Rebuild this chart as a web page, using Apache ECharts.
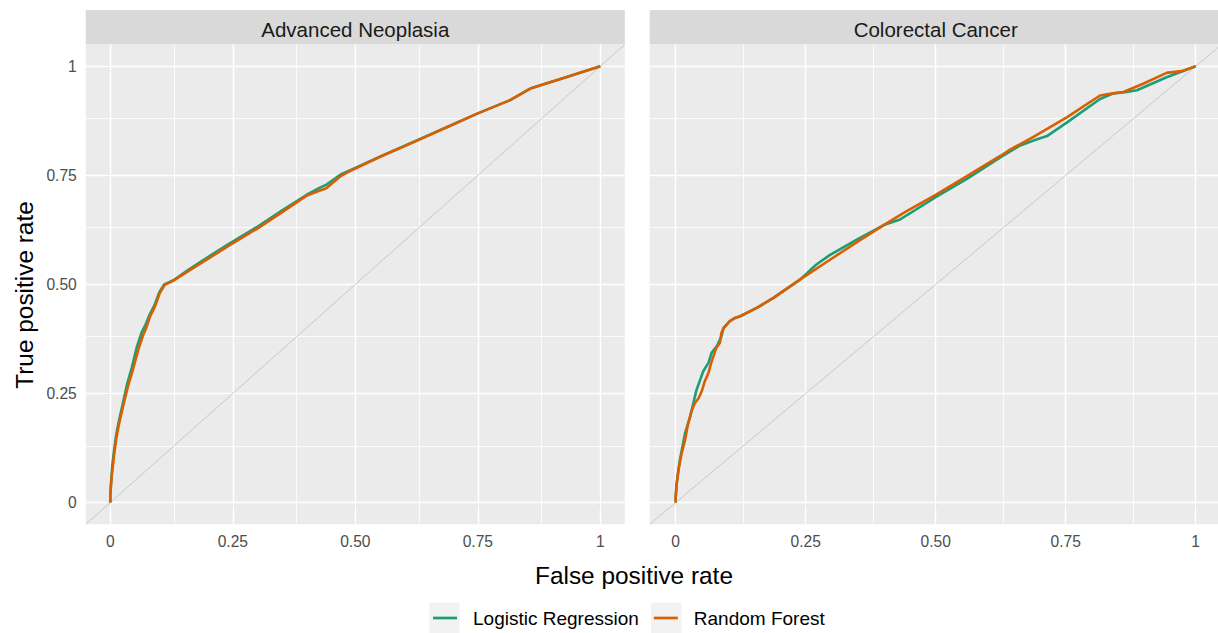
<!DOCTYPE html>
<html><head><meta charset="utf-8">
<script src="https://cdn.jsdelivr.net/npm/echarts@6/dist/echarts.min.js"></script>
<style>html,body{margin:0;padding:0;background:#fff}#c{width:1218px;height:633px}</style>
</head><body><div id="c"></div>
<script>
// ---- data ----
const panels = ['Advanced Neoplasia', 'Colorectal Cancer'];
const seriesNames = ['Logistic Regression', 'Random Forest'];
const seriesColors = ['#1B9E77', '#D95F02'];
const tickValues = [0, 0.25, 0.5, 0.75, 1];
const tickLabels = ['0', '0.25', '0.50', '0.75', '1'];
const minorValues = [0.125, 0.375, 0.625, 0.875];
const axisRange = [-0.05, 1.05];
const xTitle = 'False positive rate';
const yTitle = 'True positive rate';

// Advanced Neoplasia
const anLrFpr = [0, 0, 0.002, 0.004, 0.008, 0.012, 0.017, 0.025, 0.034, 0.044, 0.054, 0.064, 0.072, 0.08, 0.09, 0.1, 0.11, 0.128, 0.16, 0.2, 0.238, 0.3, 0.35, 0.4, 0.425, 0.44, 0.47, 0.5, 0.55, 0.623, 0.69, 0.75, 0.815, 0.857, 0.93, 1];
const anLrTpr = [0, 0.017, 0.051, 0.084, 0.122, 0.155, 0.184, 0.224, 0.27, 0.31, 0.356, 0.39, 0.408, 0.43, 0.452, 0.482, 0.5, 0.509, 0.534, 0.563, 0.59, 0.632, 0.669, 0.705, 0.72, 0.728, 0.752, 0.767, 0.793, 0.829, 0.862, 0.892, 0.922, 0.949, 0.975, 1];
const anRfFpr = [0, 0, 0.002, 0.005, 0.009, 0.013, 0.018, 0.026, 0.036, 0.046, 0.057, 0.067, 0.074, 0.081, 0.091, 0.101, 0.111, 0.128, 0.16, 0.2, 0.238, 0.3, 0.35, 0.4, 0.425, 0.44, 0.47, 0.486, 0.55, 0.623, 0.69, 0.75, 0.815, 0.857, 0.93, 1];
const anRfTpr = [0, 0.017, 0.051, 0.082, 0.12, 0.152, 0.181, 0.22, 0.266, 0.304, 0.35, 0.384, 0.402, 0.426, 0.449, 0.48, 0.499, 0.508, 0.531, 0.559, 0.586, 0.628, 0.665, 0.703, 0.714, 0.72, 0.748, 0.758, 0.792, 0.828, 0.862, 0.892, 0.922, 0.949, 0.975, 1];

// Colorectal Cancer
const crcLrFpr = [0, 0, 0.002, 0.008, 0.018, 0.028, 0.034, 0.04, 0.047, 0.053, 0.063, 0.069, 0.079, 0.088, 0.092, 0.098, 0.104, 0.114, 0.124, 0.156, 0.188, 0.239, 0.27, 0.296, 0.35, 0.4, 0.43, 0.46, 0.5, 0.56, 0.625, 0.66, 0.688, 0.714, 0.752, 0.816, 0.842, 0.867, 0.887, 0.944, 1];
const crcLrTpr = [0, 0.013, 0.044, 0.097, 0.159, 0.197, 0.228, 0.258, 0.281, 0.301, 0.32, 0.343, 0.358, 0.381, 0.4, 0.408, 0.416, 0.423, 0.427, 0.446, 0.469, 0.511, 0.545, 0.567, 0.604, 0.636, 0.648, 0.67, 0.70, 0.742, 0.792, 0.817, 0.83, 0.84, 0.871, 0.925, 0.938, 0.941, 0.945, 0.975, 1];
const crcRfFpr = [0, 0, 0.002, 0.005, 0.0115, 0.018, 0.024, 0.031, 0.037, 0.044, 0.05, 0.056, 0.063, 0.069, 0.078, 0.085, 0.088, 0.092, 0.098, 0.104, 0.114, 0.124, 0.156, 0.188, 0.239, 0.296, 0.35, 0.4, 0.44, 0.5, 0.56, 0.625, 0.643, 0.688, 0.752, 0.816, 0.841, 0.861, 0.899, 0.944, 0.973, 1];
const crcRfTpr = [0, 0.013, 0.044, 0.074, 0.113, 0.143, 0.182, 0.212, 0.228, 0.239, 0.255, 0.278, 0.297, 0.323, 0.354, 0.366, 0.389, 0.4, 0.408, 0.416, 0.423, 0.427, 0.446, 0.469, 0.511, 0.556, 0.598, 0.636, 0.665, 0.705, 0.748, 0.795, 0.809, 0.838, 0.883, 0.933, 0.938, 0.941, 0.96, 0.985, 0.989, 1];

const curves = [
  [[anLrFpr, anLrTpr], [anRfFpr, anRfTpr]],
  [[crcLrFpr, crcLrTpr], [crcRfFpr, crcRfTpr]]
];

// ---- layout ----
const FONT = 'Liberation Sans, Arial, sans-serif';
const CANVAS_W = 1218;
const pxPerUnit = [490, 520];
const gridLeft = [85.8, 649.7];
const gridBoxes = gridLeft.map((l, i) => {
  const fullW = pxPerUnit[i] * (axisRange[1] - axisRange[0]);
  return {left: l, top: 44.5, width: Math.min(fullW, CANVAS_W - l), height: 479.8};
});
// the right panel is cut by the image edge: its visible x-range ends where the canvas ends
const xMax = gridBoxes.map((b, i) => axisRange[0] + b.width / pxPerUnit[i]);

const lbl = v => { const i = tickValues.findIndex(t => Math.abs(t - v) < 1e-9); return i >= 0 ? tickLabels[i] : ''; };

const grids = gridBoxes.map(b => Object.assign({show: true, backgroundColor: '#EBEBEB', borderWidth: 0, containLabel: false}, b));

const xAxes = gridBoxes.map((b, i) => ({
  type: 'value', gridIndex: i, min: axisRange[0], max: xMax[i],
  axisLine: {show: false},
  axisTick: {show: true, customValues: tickValues, length: 4.5, lineStyle: {color: '#333333', width: 1.1}},
  axisLabel: {show: true, customValues: tickValues, formatter: lbl, color: '#4D4D4D', fontSize: 15.6, fontFamily: FONT, margin: 9},
  splitLine: {show: false}, minorSplitLine: {show: false}
}));
const yAxes = gridBoxes.map((b, i) => ({
  type: 'value', gridIndex: i, min: axisRange[0], max: axisRange[1],
  axisLine: {show: false},
  axisTick: {show: i === 0, customValues: tickValues, length: 4.5, lineStyle: {color: '#333333', width: 1.1}},
  axisLabel: {show: i === 0, customValues: tickValues, formatter: lbl, color: '#4D4D4D', fontSize: 15.6, fontFamily: FONT, margin: 9},
  splitLine: {show: false}, minorSplitLine: {show: false}
}));

const series = [];
panels.forEach((p, i) => {
  const gridLines = [];
  tickValues.forEach(v => { gridLines.push({xAxis: v, lineStyle: {width: 1.4}}); gridLines.push({yAxis: v, lineStyle: {width: 1.4}}); });
  minorValues.forEach(v => { gridLines.push({xAxis: v, lineStyle: {width: 0.8}}); gridLines.push({yAxis: v, lineStyle: {width: 0.8}}); });
  series.push({
    type: 'line', name: 'diag' + i, xAxisIndex: i, yAxisIndex: i,
    data: axisRange.map(v => [v, v]), showSymbol: false, silent: true, z: 2, clip: true,
    lineStyle: {color: '#C4C4C4', width: 0.9}, animation: false,
    markLine: {silent: true, z: 1, symbol: ['none', 'none'], label: {show: false},
      lineStyle: {color: '#FFFFFF', type: 'solid'}, data: gridLines, animation: false}
  });
  curves[i].forEach((c, k) => {
    series.push({
      type: 'line', name: seriesNames[k], xAxisIndex: i, yAxisIndex: i,
      data: c[0].map((x, j) => [x, c[1][j]]), showSymbol: false, z: 3 + k,
      color: seriesColors[k], lineStyle: {color: seriesColors[k], width: 2.6},
      animation: false, clip: true
    });
  });
});

const graphics = [];
panels.forEach((p, i) => {
  const b = gridBoxes[i];
  const fullW = pxPerUnit[i] * (axisRange[1] - axisRange[0]);
  graphics.push({type: 'rect', silent: true, z: -1, shape: {x: b.left, y: 10, width: fullW, height: 34.5}, style: {fill: '#D9D9D9'}});
  graphics.push({type: 'text', silent: true, x: b.left + fullW / 2, y: 29, style: {text: p, fontSize: 20.5, fontFamily: FONT, fill: '#1A1A1A', align: 'center', verticalAlign: 'middle'}});
});
graphics.push({type: 'text', silent: true, x: 634, y: 575, style: {text: xTitle, fontSize: 24.4, fontFamily: FONT, fill: '#000000', align: 'center', verticalAlign: 'middle'}});
graphics.push({type: 'text', silent: true, x: 24, y: 295, rotation: Math.PI / 2, style: {text: yTitle, fontSize: 24.4, fontFamily: FONT, fill: '#000000', align: 'center', verticalAlign: 'middle'}});
// legend key backgrounds
graphics.push({type: 'rect', silent: true, shape: {x: 429.3, y: 602.7, width: 30.3, height: 30.3}, style: {fill: '#F2F2F2'}});
graphics.push({type: 'rect', silent: true, shape: {x: 651, y: 602.7, width: 30.3, height: 30.3}, style: {fill: '#F2F2F2'}});

const chart = echarts.init(document.getElementById('c'), null, {renderer: 'svg'});
chart.setOption({
  backgroundColor: '#FFFFFF',
  animation: false,
  grid: grids,
  xAxis: xAxes,
  yAxis: yAxes,
  legend: {
    data: seriesNames, left: 433, top: 608.5, padding: 0, orient: 'horizontal',
    icon: 'rect', itemWidth: 24, itemHeight: 2.7, itemGap: 15,
    selectedMode: false, z: 10,
    textStyle: {fontSize: 19, fontFamily: FONT, color: '#000000', padding: [3, 0, 0, 11]}
  },
  graphic: graphics,
  series: series
});
</script></body></html>
